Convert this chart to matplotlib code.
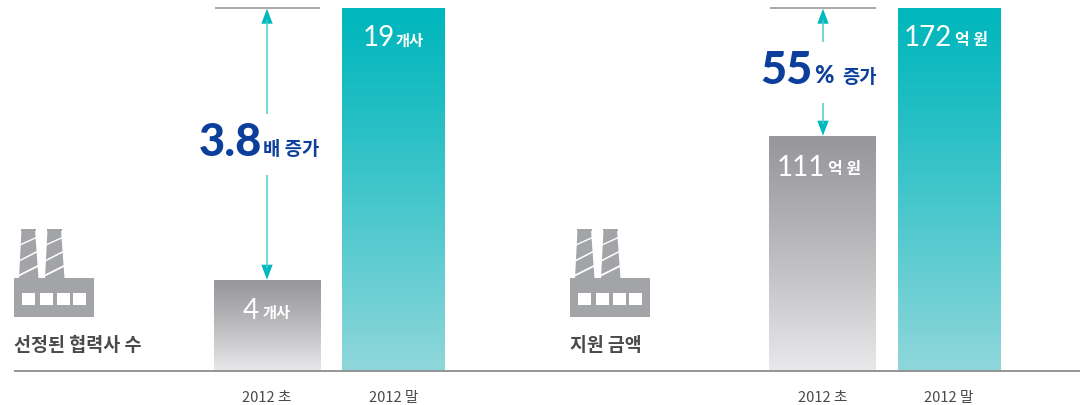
import numpy as np
import matplotlib
matplotlib.use("Agg")
import matplotlib.pyplot as plt
from matplotlib.patches import Polygon, Rectangle

plt.rcParams['font.family'] = ['Noto Sans CJK KR', 'DejaVu Sans']

W, H = 1082, 406
BASE, TOP = 372, 9

period_labels = ['2012 초', '2012 말']
left_title = '선정된 협력사 수'
right_title = '지원 금액'
# left panel is drawn out of proportion in the source: 4 is shown about a quarter high
left_heights = [4.76, 19]
left_nums = ['4', '19']
left_unit = '개사'
right_heights = [111, 172]
right_nums = ['111', '172']
right_unit = '억 원'

GRAY = ('#98989c', '#e9e9eb')
TEAL = ('#00b7bd', '#90d7db')
ARROW = '#00b9bf'
BLUE = '#0b3f9b'
NUM_FONT = 'Lato'

fig = plt.figure(figsize=(W / 100, H / 100), dpi=100, facecolor='white')

def panel(x0, x1):
    a = fig.add_axes([x0 / W, 1 - BASE / H, (x1 - x0) / W, (BASE - TOP) / H])
    a.axis('off')
    return a

def gradient_bars(a, lefts, rights, heights, colors, xlim, ymax):
    for l, r, h, (c0, c1) in zip(lefts, rights, heights, colors):
        a.bar((l + r) / 2, h, width=r - l, color='none', linewidth=0)
        rgb0 = np.array(matplotlib.colors.to_rgb(c0))
        rgb1 = np.array(matplotlib.colors.to_rgb(c1))
        t = np.linspace(0, 1, 256)[:, None, None] ** 1.15
        img = rgb0[None, None, :] * (1 - t) + rgb1[None, None, :] * t
        a.imshow(img, extent=(l, r, 0, h), aspect='auto', zorder=2, interpolation='bilinear')
    a.set_xlim(*xlim)
    a.set_ylim(0, ymax)

ax_l = panel(0, 540)
ax_r = panel(540, 1082)
gradient_bars(ax_l, [214, 342], [321, 445], left_heights, [GRAY, TEAL], (0, 540), 19)
gradient_bars(ax_r, [769, 898], [876, 1001], right_heights, [GRAY, TEAL], (540, 1082), 172)

ov = fig.add_axes([0, 0, 1, 1], zorder=5)
ov.set_xlim(0, W)
ov.set_ylim(H - 0.7, -0.7)
ov.axis('off')

# baseline and reference lines
ov.plot([14, 1080], [371, 371], color='#8c8c8c', lw=1.3, solid_capstyle='butt')
ov.plot([215, 320], [8.5, 8.5], color='#9a9a9a', lw=1.2, solid_capstyle='butt')
ov.plot([770, 876], [8.5, 8.5], color='#9a9a9a', lw=1.2, solid_capstyle='butt')

def seg(x, y0, y1):
    ov.plot([x, x], [y0, y1], color='#4fc9cd', lw=1.1, solid_capstyle='butt')

def head(x, tip, d):
    ov.add_patch(Polygon([(x, tip), (x - 5.7, tip + d * 15), (x + 5.7, tip + d * 15)], color=ARROW, lw=0))

seg(267, 20, 114); seg(267, 175, 268)
head(267, 9, 1); head(267, 280, -1)
seg(823, 20, 42); seg(823, 103, 124)
head(823, 9, 1); head(823, 136, -1)

def factory(dx):
    c = '#a3a4a8'
    for sx in (0, 26):
        ov.add_patch(Polygon([(21.5 + dx + sx, 230), (35 + dx + sx, 230), (38.5 + dx + sx, 279), (19 + dx + sx, 279)], color=c, lw=0))
        ov.add_patch(Rectangle((21 + dx + sx, 229), 15, 2, color=c, lw=0))
        ov.plot([20.5 + dx + sx, 36 + dx + sx], [245, 238], color='white', lw=1.0)
        ov.plot([19.5 + dx + sx, 37 + dx + sx], [261, 252], color='white', lw=1.1)
        ov.plot([18.5 + dx + sx, 38.5 + dx + sx], [276, 266], color='white', lw=1.3)
    ov.add_patch(Rectangle((14 + dx, 278), 80, 39, color=c, lw=0))
    for wx in (22, 40, 57, 73):
        ov.add_patch(Rectangle((wx + dx, 293), 13, 12, color='white', lw=0))

factory(0)
factory(556)

def t(x, y, s, size, color='white', weight='normal', ha='left', font=None):
    kw = {'family': [font, 'Noto Sans CJK KR']} if font else {}
    ov.text(x, y, s, fontsize=size, color=color, fontweight=weight, ha=ha, va='center_baseline', **kw)

t(14, 343, left_title, 13.3, '#4a4a4c', 'bold')
t(570, 343, right_title, 13.2, '#4a4a4c', 'bold')

for cx, lab in zip([267, 394, 823, 949], period_labels * 2):
    t(cx, 395.5, lab, 10.6, '#4a4a4c', ha='center')

# bar values
t(243, 308, left_nums[0], 20, font=NUM_FONT)
t(263, 311, left_unit, 11, weight='bold')
t(363, 35, left_nums[1], 20, font=NUM_FONT)
t(396, 39, left_unit, 11, weight='bold')
t(777, 165, right_nums[0], 20, font=NUM_FONT)
t(828, 167, right_unit, 11.5, weight='bold')
t(904, 35, right_nums[1], 20, font=NUM_FONT)
t(955, 38, right_unit, 11.5, weight='bold')

# increase callouts
t(199, 138, '3.8', 32.5, BLUE, 'black', font=NUM_FONT)
t(263, 147, '배 증가', 13.6, BLUE, 'bold')
t(760, 66, '55', 32.5, BLUE, 'black', font=NUM_FONT)
t(814, 73, '%', 17, BLUE, 'black', font=NUM_FONT)
t(842, 75, '증가', 13.5, BLUE, 'bold')

fig.savefig('out.png', dpi=100)
